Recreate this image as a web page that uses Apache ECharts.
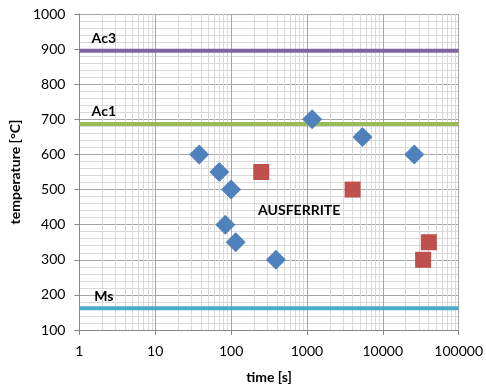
<!DOCTYPE html>
<html>
<head>
<meta charset="utf-8">
<script src="https://cdn.jsdelivr.net/npm/echarts@6/dist/echarts.min.js"></script>
<style>
  html, body { margin: 0; padding: 0; background: #fff; }
  #chart { width: 486px; height: 390px; }
</style>
</head>
<body>
<div id="chart"></div>
<script>
// data
var blueTimes = [38, 70, 100, 84, 115, 390, 1170, 5400, 26000];
var blueTemps = [600, 550, 500, 400, 350, 300, 700, 650, 600];
var redTimes = [250, 4000, 40500, 34000];
var redTemps = [550, 500, 350, 300];
var phaseNames = ['Ac3', 'Ac1', 'Ms'];
var phaseTemps = [895, 687, 162];
var phaseColors = ['#8064A2', '#9BBB59', '#4BACC6'];
var zoneLabel = 'AUSFERRITE';
var zoneAt = [790, 441];

var font = 'Lato, "Open Sans", sans-serif';

// minor log gridlines (2..9 in every decade)
var minorX = [];
for (var d = 1; d < 100000; d *= 10) {
    for (var k = 2; k <= 9; k++) minorX.push({ xAxis: d * k });
}

function pairs(xs, ys) {
    return xs.map(function(x, i) { return [x, ys[i]]; });
}

function textLabel(text, pos) {
    return {
        show: true,
        formatter: text,
        position: pos,
        distance: 5,
        color: '#000',
        fontWeight: 'bold',
        fontSize: 14,
        fontFamily: font
    };
}

var series = [{
    type: 'line',
    data: [],
    z: 1,
    silent: true,
    markLine: {
        z: 1,
        silent: true,
        symbol: 'none',
        label: { show: false },
        lineStyle: { color: '#d9d9d9', width: 1, type: 'solid' },
        data: minorX
    }
}];

phaseNames.forEach(function(name, i) {
    series.push({
        type: 'line',
        data: [[1, phaseTemps[i]], [100000, phaseTemps[i]]],
        showSymbol: false,
        symbol: 'none',
        z: 2,
        lineStyle: { color: phaseColors[i], width: 4 }
    });
    series.push({
        type: 'scatter',
        data: [[2.1, phaseTemps[i]]],
        symbolSize: 0,
        z: 4,
        itemStyle: { opacity: 1 },
        label: textLabel(name, 'top')
    });
});

series.push({
    type: 'scatter',
    data: pairs(blueTimes, blueTemps),
    symbol: 'diamond',
    symbolSize: 20,
    z: 3,
    itemStyle: { color: '#4F81BD', opacity: 1 }
});
series.push({
    type: 'scatter',
    data: pairs(redTimes, redTemps),
    symbol: 'rect',
    symbolSize: 16,
    z: 3,
    itemStyle: { color: '#C0504D', opacity: 1 }
});
series.push({
    type: 'scatter',
    data: [zoneAt],
    symbolSize: 0,
    z: 4,
    itemStyle: { opacity: 1 },
    label: textLabel(zoneLabel, 'inside')
});

var option = {
    backgroundColor: '#fff',
    animation: false,
    grid: { left: 77, right: 26, top: 14, bottom: 60 },
    xAxis: {
        type: 'log',
        logBase: 10,
        min: 1,
        max: 100000,
        name: 'time [s]',
        nameLocation: 'middle',
        nameGap: 40,
        nameTextStyle: { fontWeight: 'bold', fontSize: 14, color: '#000', fontFamily: font },
        axisLine: { lineStyle: { color: '#868686' } },
        axisTick: { show: true, length: 5, lineStyle: { color: '#868686' } },
        axisLabel: {
            color: '#000', fontSize: 14, fontFamily: font, margin: 14,
            formatter: function(v) { return String(Math.round(v)); }
        },
        splitLine: { show: true, lineStyle: { color: '#a6a6a6' } }
    },
    yAxis: {
        type: 'value',
        min: 100,
        max: 1000,
        interval: 100,
        name: 'temperature [°C]',
        nameLocation: 'middle',
        nameGap: 53,
        nameTextStyle: { fontWeight: 'bold', fontSize: 14, color: '#000', fontFamily: font },
        axisLine: { show: true, lineStyle: { color: '#868686' } },
        axisTick: { show: true, length: 5, lineStyle: { color: '#868686' } },
        axisLabel: {
            color: '#000', fontSize: 14, fontFamily: font, margin: 14,
            formatter: function(v) { return String(v); }
        },
        splitLine: { show: true, lineStyle: { color: '#a6a6a6' } },
        minorTick: { show: false, splitNumber: 5 },
        minorSplitLine: { show: true, lineStyle: { color: '#d9d9d9' } }
    },
    series: series
};

var chart = echarts.init(document.getElementById('chart'));
chart.setOption(option);
</script>
</body>
</html>
